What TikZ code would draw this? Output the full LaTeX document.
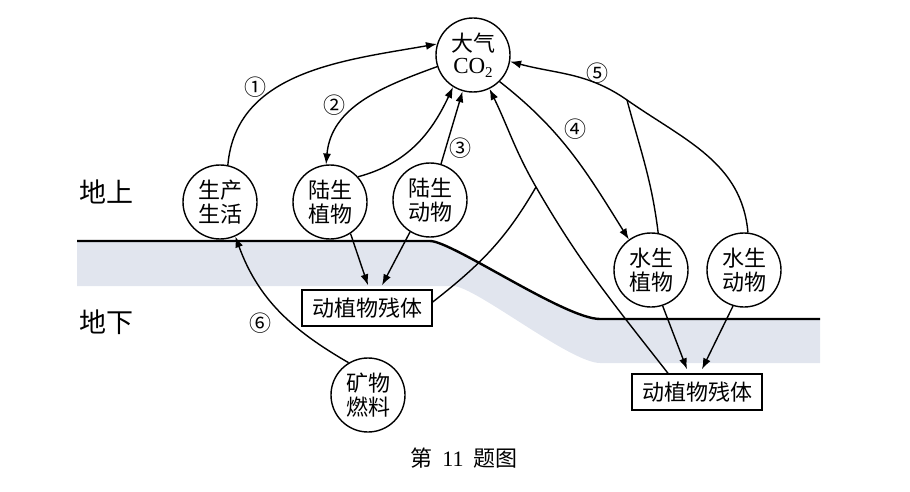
\documentclass[tikz,border=0pt]{standalone}
\usepackage{fontspec}
\setmainfont{Liberation Serif}
\newfontfamily\cjk{Noto Sans CJK SC}
\usetikzlibrary{arrows.meta,calc}
\begin{document}
\begin{tikzpicture}[x=1pt,y=1pt,
  circ/.style={circle,draw,line width=1.4pt,minimum size=74pt,inner sep=0pt,align=center,font=\cjk\fontsize{22}{24}\selectfont},
  boxn/.style={draw,line width=1.4pt,minimum width=130pt,minimum height=36pt,inner sep=2pt,font=\cjk\fontsize{22}{24}\selectfont},
  conn/.style={line width=1.4pt},
  arr/.style={conn,-{Latex[length=11pt,width=8pt]}},
  num/.style={font=\cjk\fontsize{22}{22}\selectfont,inner sep=0pt},
  big/.style={font=\cjk\fontsize{27}{27}\selectfont,inner sep=0pt}]
\useasboundingbox (0,0) rectangle (910,491);
% band and ground line
\fill[fill={rgb,255:red,225;green,229;blue,238}] (77,250) -- (430,250) .. controls (452,250) and (565,172) .. (600,172) -- (820,172) -- (820,128) -- (600,128) .. controls (570,128) and (475,205) .. (453,205) -- (77,205) -- cycle;
\draw[line width=2.4pt] (77,250) -- (430,250) .. controls (452,250) and (565,172) .. (600,172) -- (820,172);
% nodes
\node[circ] (co2) at (473,436) {大气\\[-2pt]{\rmfamily\fontsize{23}{23}\selectfont CO\raisebox{-4pt}{\fontsize{15}{15}\selectfont 2}}};
\node[circ] (sc) at (220,289) {生产\\生活};
\node[circ] (lz) at (330,289) {陆生\\植物};
\node[circ] (ld) at (430,291) {陆生\\动物};
\node[circ] (sz) at (651,221) {水生\\植物};
\node[circ] (sd) at (744,221) {水生\\动物};
\node[circ] (kr) at (368,96) {矿物\\燃料};
\node[boxn,fill=white] (lb) at (367,183) {动植物残体};
\node[boxn,fill=white] (rb) at (697,99) {动植物残体};
\coordinate (jl) at (536,304);
\coordinate (j5) at (627,391);
% labels
\node[big] (tup) at (106,299) {地上};
\node[big] (tdn) at (106,169) {地下};
\node[num] (n1) at (255,404) {①};
\node[num] (n2) at (334,386) {②};
\node[num] (n3) at (460,343) {③};
\node[num] (n4) at (575,362) {④};
\node[num] (n5) at (597,418) {⑤};
\node[num] (n6) at (260,168) {⑥};
\node[font=\fontsize{22}{22}\selectfont] (cap) at (464,33) {{\cjk 第}\hspace{10pt}11\hspace{10pt}{\cjk 题图}};
% connectors
\draw[arr] (sc.78) to[out=85,in=190] (co2.163);
\draw[arr] (co2.198) to[out=200,in=85] (lz.96);
\draw[arr] (lz.42) to[out=15,in=245] (co2.238);
\draw[arr] (ld.73) -- (co2.254);
\draw[arr] (co2.315) to[out=-38,in=122] (sz.126);
\draw[arr] (sd.84) to[out=95,in=-35] (j5) to[out=145,in=-15] (co2.350);
\draw[conn] (sz.79) to[out=97,in=-75] (j5);
\draw[arr] ([xshift=-29pt]rb.north) to[out=128,in=-60] (jl) to[out=120,in=-64] (co2.296);
\draw[conn] ([yshift=6pt]lb.east) to[out=38,in=-120] (jl);
\draw[arr] (kr.121) to[out=150,in=-70] (sc.294);
\draw[arr] (lz.303) -- ([xshift=1pt,yshift=4pt]lb.north);
\draw[arr] (ld.238) -- ([xshift=15pt,yshift=4pt]lb.north);
\draw[arr] (sz.288) -- ([xshift=-10pt,yshift=4pt]rb.north);
\draw[arr] (sd.253) -- ([xshift=5pt,yshift=4pt]rb.north);
\end{tikzpicture}
\end{document}
